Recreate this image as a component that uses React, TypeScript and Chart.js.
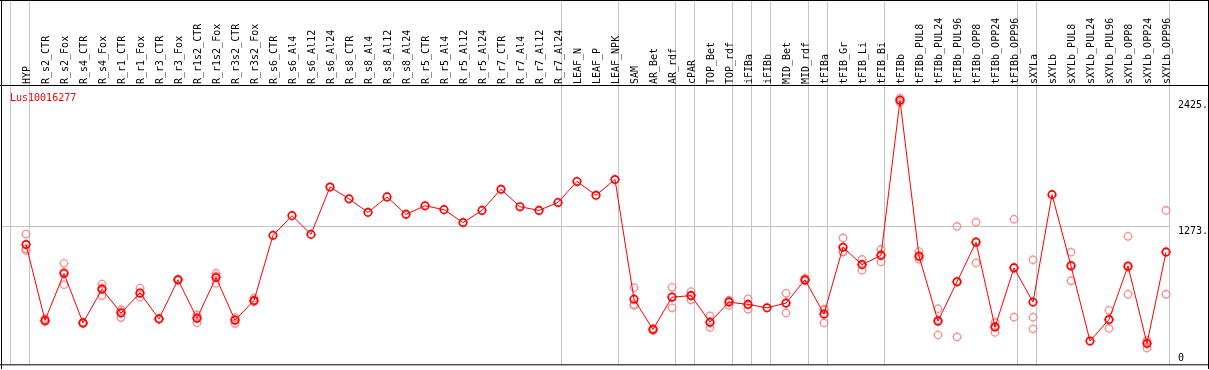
import React, { useEffect, useRef } from "react";
import { Chart, registerables } from "chart.js";

Chart.register(...registerables);

// ---------- data ----------
const title = "Lus10016277";

const categories = [
  "HYP",
  "R_s2_CTR", "R_s2_Fox", "R_s4_CTR", "R_s4_Fox", "R_r1_CTR", "R_r1_Fox", "R_r3_CTR", "R_r3_Fox",
  "R_r1s2_CTR", "R_r1s2_Fox", "R_r3s2_CTR", "R_r3s2_Fox",
  "R_s6_CTR", "R_s6_Al4", "R_s6_Al12", "R_s6_Al24",
  "R_s8_CTR", "R_s8_Al4", "R_s8_Al12", "R_s8_Al24",
  "R_r5_CTR", "R_r5_Al4", "R_r5_Al12", "R_r5_Al24",
  "R_r7_CTR", "R_r7_Al4", "R_r7_Al12", "R_r7_Al24",
  "LEAF_N", "LEAF_P", "LEAF_NPK",
  "SAM", "AR_Bet", "AR_rdf",
  "cPAR",
  "TOP_Bet", "TOP_rdf",
  "iFIBa",
  "iFIBb",
  "MID_Bet", "MID_rdf",
  "tFIBa",
  "tFIB_Gr", "tFIB_Li", "tFIB_Bi",
  "tFIBb", "tFIBb_PUL8", "tFIBb_PUL24", "tFIBb_PUL96", "tFIBb_OPP8", "tFIBb_OPP24", "tFIBb_OPP96",
  "sXYLa",
  "sXYLb", "sXYLb_PUL8", "sXYLb_PUL24", "sXYLb_PUL96", "sXYLb_OPP8", "sXYLb_OPP24", "sXYLb_OPP96",
];

// sizes of the groups separated by vertical lines
const groupSizes = [1, 28, 3, 3, 1, 2, 1, 1, 2, 1, 3, 7, 1, 7];

const meanValues = [
  1100,
  403, 834, 380, 689, 471, 655, 417, 776,
  423, 797, 405, 586,
  1184, 1365, 1193, 1628,
  1519, 1395, 1537, 1377,
  1456, 1420, 1302, 1413,
  1607, 1447, 1413, 1486,
  1679, 1552, 1697,
  598, 320, 616,
  631,
  387, 571,
  550,
  519,
  562, 776,
  462,
  1075, 915, 1000,
  2425, 994, 396, 758, 1121, 342, 885,
  571,
  1558, 903, 214, 411, 903, 190, 1030,
];

const rep1 = [
  1196,
  420, 927, 385, 737, 501, 700, 420, 780,
  456, 836, 429, 607,
  null, null, null, null,
  null, null, null, null,
  null, null, null, null,
  null, null, null, null,
  null, null, null,
  704, 330, 707,
  668,
  444, 586,
  601,
  null,
  652, 790,
  507,
  1160, 963, 1054,
  2444, 1035, 510, 1266, 1305, 384, 1332,
  960,
  null, 1030, null, 496, 1175, 220, 1413,
];

const rep2 = [
  1060,
  398, 731, 378, 631, 429, 616, 415, 775,
  380, 743, 374, 575,
  null, null, null, null,
  null, null, null, null,
  null, null, null, null,
  null, null, null, null,
  null, null, null,
  541, 318, 519,
  592,
  338, 541,
  505,
  null,
  471, 770,
  380,
  1030, 864, 1010,
  2425, 963, 269, 251, 931, 293, 432,
  432,
  null, 767, null, 329, 643, 148, 643,
];

const rep3 = [
  1045,
  392, 845, 377, 700, 483, 650, 416, 773,
  433, 812, 412, 576,
  null, null, null, null,
  null, null, null, null,
  null, null, null, null,
  null, null, null, null,
  null, null, null,
  550, 312, 622,
  633,
  379, 586,
  545,
  null,
  563, 768,
  499,
  1035, 918, 940,
  2406, 984, 409, 757, 1127, 349, 891,
  326,
  null, 912, null, 408, 891, 202, 1034,
];

const yTickValues = [2425, 1273, 0];
const yTickLabels = ["2425.", "1273.", "0"];

// ---------- styling / layout ----------
const W = 1209;
const H = 370;
const FONT = "10px 'DejaVu Sans Mono', 'Liberation Mono', monospace";
const RED = "#ff0000";
const PINK = "rgba(238,125,125,0.8)";
const GRID = "#c4c4c4";
const COL_OFFSET = 15 / 19; // point sits 15px into a 19px column
const Y_MAX = yTickValues[0] * 1.05;

const toPoints = (arr: (number | null)[]) =>
  arr.map((v, i) => ({ x: i, y: v }));

export default function App() {
  const ref = useRef<HTMLCanvasElement | null>(null);

  useEffect(() => {
    document.body.style.margin = "0";
    const canvas = ref.current!;

    const decor = {
      id: "decor",
      beforeDraw(chart: any) {
        const ctx = chart.ctx;
        const xs = chart.scales.x;
        const ys = chart.scales.y;
        const ca = chart.chartArea;
        ctx.save();
        ctx.fillStyle = "#ffffff";
        ctx.fillRect(0, 0, W, H);
        ctx.strokeStyle = GRID;
        ctx.lineWidth = 1;
        let k = 0;
        const bounds = [0];
        groupSizes.forEach((s) => { k += s; bounds.push(k); });
        bounds.forEach((b) => {
          const px = Math.round(xs.getPixelForValue(b - COL_OFFSET)) - 0.5;
          ctx.beginPath();
          ctx.moveTo(px, 0);
          ctx.lineTo(px, ca.bottom);
          ctx.stroke();
        });
        const gy = Math.round(ys.getPixelForValue(yTickValues[1])) + 0.5;
        ctx.beginPath();
        ctx.moveTo(1, gy);
        ctx.lineTo(ca.right - 1, gy);
        ctx.stroke();
        ctx.restore();
      },
      afterDatasetDraw(chart: any, args: any) {
        // tiny ticks around each marker (positions from the library's elements)
        const ctx = chart.ctx;
        const ds = chart.data.datasets[args.index];
        ctx.save();
        ctx.strokeStyle = ds.pointBorderColor;
        ctx.globalAlpha = 0.7;
        ctx.lineWidth = 1;
        args.meta.data.forEach((el: any) => {
          if (el.skip) return;
          const x = el.x, y = el.y;
          if (!isFinite(x) || !isFinite(y)) return;
          ctx.beginPath();
          ctx.moveTo(x, y - 4.4); ctx.lineTo(x, y - 5.2);
          ctx.moveTo(x, y + 4.4); ctx.lineTo(x, y + 5.2);
          ctx.moveTo(x - 4.4, y); ctx.lineTo(x - 5.2, y);
          ctx.moveTo(x + 4.4, y); ctx.lineTo(x + 5.2, y);
          ctx.stroke();
        });
        ctx.restore();
      },
      afterDraw(chart: any) {
        const ctx = chart.ctx;
        const xs = chart.scales.x;
        const ys = chart.scales.y;
        const ca = chart.chartArea;
        ctx.save();
        ctx.fillStyle = "#000000";
        ctx.fillRect(0, 0, W, 1);
        ctx.fillRect(1, 0, 1, H - 1);
        ctx.fillRect(W - 1, 0, 1, H - 1);
        ctx.fillRect(0, ca.bottom, W, 1);
        ctx.fillRect(0, ca.top - 2, W, 1);
        ctx.font = FONT;
        ctx.fillStyle = "#000000";
        ctx.textAlign = "left";
        ctx.textBaseline = "alphabetic";
        categories.forEach((c, i) => {
          const px = xs.getPixelForValue(i);
          ctx.save();
          ctx.translate(Math.round(px) + 4, ca.top - 3);
          ctx.rotate(-Math.PI / 2);
          ctx.fillText(c, 0, 0);
          ctx.restore();
        });
        ctx.fillStyle = RED;
        ctx.fillText(title, 10, ca.top + 14);
        ctx.fillStyle = "#000000";
        yTickValues.forEach((v, i) => {
          const py = ys.getPixelForValue(v);
          if (v === 0) {
            ctx.textBaseline = "alphabetic";
            ctx.fillText(yTickLabels[i], ca.right + 8, py - 3);
          } else {
            ctx.textBaseline = "top";
            ctx.fillText(yTickLabels[i], ca.right + 8, py + 0.5);
          }
        });
        ctx.restore();
      },
    };

    const repDataset = (arr: (number | null)[]) => ({
      data: toPoints(arr),
      showLine: false,
      pointStyle: "circle",
      pointRadius: 3.7,
      pointBorderWidth: 1.4,
      pointBorderColor: PINK,
      pointBackgroundColor: "rgba(0,0,0,0)",
      clip: false as any,
    });

    const chart = new Chart(canvas, {
      type: "line",
      data: {
        datasets: [
          {
            data: toPoints(meanValues),
            borderColor: RED,
            borderWidth: 1,
            pointStyle: "circle",
            pointRadius: 3.7,
            pointBorderWidth: 1.7,
            pointBorderColor: RED,
            pointBackgroundColor: "rgba(0,0,0,0)",
            showLine: true,
            clip: false as any,
            tension: 0,
          },
          repDataset(rep1),
          repDataset(rep2),
          repDataset(rep3),
        ] as any,
      },
      options: {
        animation: false,
        responsive: false,
        events: [],
        layout: { padding: { left: 11, right: 39, top: 87, bottom: 2 } },
        plugins: {
          legend: { display: false },
          tooltip: { enabled: false },
        },
        scales: {
          x: {
            type: "linear",
            display: false,
            min: -COL_OFFSET,
            max: categories.length - COL_OFFSET,
          },
          y: { display: false, min: 0, max: Y_MAX },
        },
      },
      plugins: [decor],
    });
    return () => chart.destroy();
  }, []);

  return (
    <div style={{ position: "absolute", left: 0, top: 0, width: W, height: H }}>
      <canvas ref={ref} width={W} height={H} style={{ display: "block" }} />
    </div>
  );
}
